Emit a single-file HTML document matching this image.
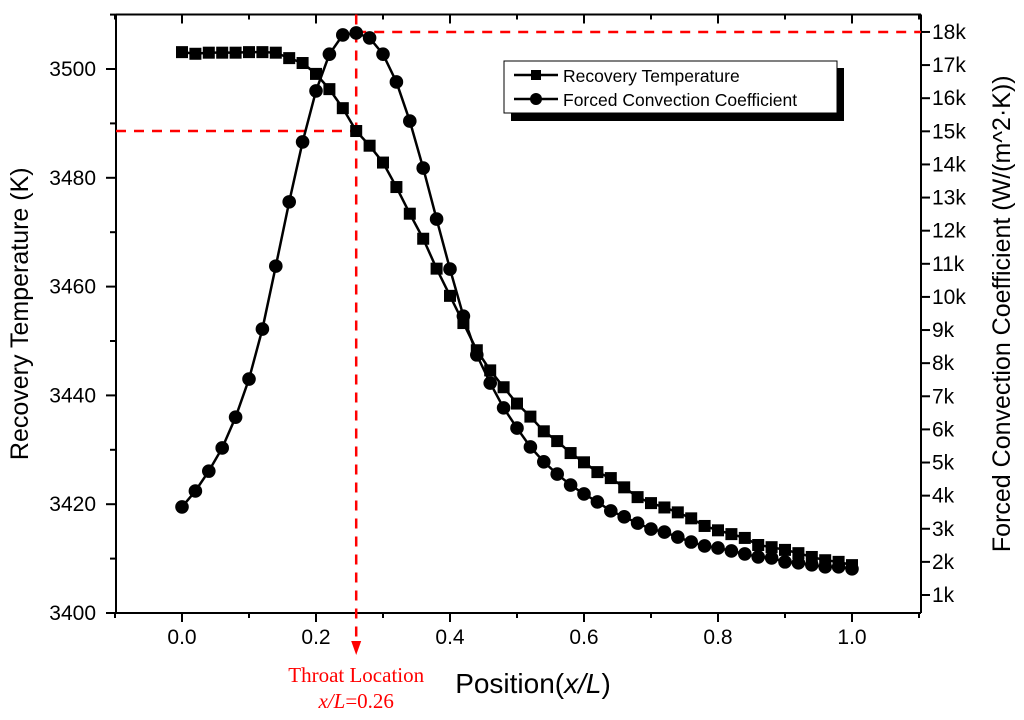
<!DOCTYPE html>
<html><head><meta charset="utf-8"><style>
body{margin:0;background:#fff;}
svg{display:block;font-family:"Liberation Sans",Arial,sans-serif;}
</style></head><body>
<svg id="chart" width="1024" height="720" viewBox="0 0 1024 720">
<g id="plot"></g>
</svg>
<script>
const xs = [0,0.02,0.04,0.06,0.08,0.10,0.12,0.14,0.16,0.18,0.20,0.22,0.24,0.26,0.28,0.30,0.32,0.34,0.36,0.38,0.40,0.42,0.44,0.46,0.48,0.50,0.52,0.54,0.56,0.58,0.60,0.62,0.64,0.66,0.68,0.70,0.72,0.74,0.76,0.78,0.80,0.82,0.84,0.86,0.88,0.90,0.92,0.94,0.96,0.98,1.0];
const tempK = [3503.1,3502.8,3503,3503,3503,3503.1,3503.1,3503,3502,3501.1,3499.1,3496.3,3492.8,3488.6,3485.9,3482.8,3478.3,3473.4,3468.8,3463.3,3458.3,3453.3,3448.3,3444.6,3441.5,3438.5,3436.1,3433.4,3431.6,3429.4,3427.7,3425.9,3424.8,3423.1,3421.3,3420.2,3419.4,3418.5,3417.4,3416,3415.2,3414.5,3413.8,3412.5,3412.1,3411.6,3411,3410.3,3409.7,3409.4,3408.8];
const hConvK = [3.66,4.14,4.74,5.44,6.37,7.52,9.03,10.93,12.87,14.68,16.22,17.33,17.91,17.97,17.82,17.33,16.49,15.31,13.89,12.35,10.84,9.42,8.25,7.40,6.65,6.04,5.47,5.02,4.65,4.32,4.05,3.81,3.54,3.36,3.17,2.99,2.90,2.75,2.60,2.48,2.42,2.33,2.24,2.15,2.12,2.00,1.97,1.91,1.85,1.85,1.79];
const xTicks = [0.0,0.2,0.4,0.6,0.8,1.0];
const xTickLabels = ["0.0","0.2","0.4","0.6","0.8","1.0"];
const leftTicks = [3400,3420,3440,3460,3480,3500];
const rightTicks = [1,2,3,4,5,6,7,8,9,10,11,12,13,14,15,16,17,18];
const throatX = 0.26;

const L=116,R=921,T=14.5,B=613;
const X = v => 182 + v*670;
const YL = v => 613 - (v-3400)*5.44;
const YR = v => 595 - (v-1)*33.12;

const NS="http://www.w3.org/2000/svg";
const g=document.getElementById('plot');
function el(tag,attrs,parent){const e=document.createElementNS(NS,tag);for(const k in attrs)e.setAttribute(k,attrs[k]);(parent||g).appendChild(e);return e;}

let a=el('path',{d:`M${L},${B}H${R}M${L},${T}H${R}M${L},${T}V${B}M${R},${T}V${B}`,stroke:'#000','stroke-width':2,fill:'none'});



for(let v=-0.1;v<=1.101;v+=0.1){
  const major=Math.abs(Math.round(v*10)%2)===0;
  const x=X(v);
  el('line',{x1:x,x2:x,y1:B,y2:B+(major?9:5),stroke:'#000','stroke-width':2});
  el('line',{x1:x,x2:x,y1:T,y2:T+(major?9:5),stroke:'#000','stroke-width':2});
}
xTicks.forEach((v,i)=>{
  const t=el('text',{x:X(v),y:644,'font-size':21,'text-anchor':'middle',fill:'#000'});
  t.textContent=xTickLabels[i];
  
  
});
for(let v=3400;v<=3510;v+=10){
  const major=v%20===0;
  el('line',{x1:L-(major?10:6),x2:L,y1:YL(v),y2:YL(v),stroke:'#000','stroke-width':2});
}
leftTicks.forEach(v=>{
  const t=el('text',{x:96,y:YL(v)+7,'font-size':21,'text-anchor':'end',fill:'#000'});
  t.textContent=v;
  
  
});
rightTicks.forEach(v=>{
  el('line',{x1:R,x2:R+9,y1:YR(v),y2:YR(v),stroke:'#000','stroke-width':2});
  const t=el('text',{x:932,y:YR(v)+7,'font-size':21,'text-anchor':'start',fill:'#000'});
  t.textContent=v+'k';
  
  
});

let t1=el('text',{x:0,y:0,'font-size':25,'text-anchor':'middle',transform:`translate(28,${(T+B)/2}) rotate(-90)`});
t1.textContent='Recovery Temperature (K)';


let t2=el('text',{x:0,y:0,'font-size':25,'text-anchor':'middle',transform:`translate(1010,${(T+B)/2}) rotate(-90)`});
t2.textContent='Forced Convection Coefficient (W/(m^2\u00B7K))';


let t3=el('text',{x:533,y:693,'font-size':28,'text-anchor':'middle'});
t3.innerHTML='Position(<tspan font-style="italic">x/L</tspan>)';



const tx=X(throatX);
let d1=el('line',{x1:tx,x2:tx,y1:T,y2:640,stroke:'#f00','stroke-width':2.5,'stroke-dasharray':'10,8'});


let d2=el('line',{x1:L,x2:tx,y1:YL(tempK[13]),y2:YL(tempK[13]),stroke:'#f00','stroke-width':2.5,'stroke-dasharray':'10,8'});


let d3=el('line',{x1:tx,x2:R,y1:YR(18),y2:YR(18),stroke:'#f00','stroke-width':2.5,'stroke-dasharray':'10,8'});


let ar=el('path',{d:`M${tx-5},641L${tx+5},641L${tx},655Z`,fill:'#f00'});


let tl=el('text',{x:tx,y:682,'font-size':21,'text-anchor':'middle',fill:'#f00','font-family':'Liberation Serif, serif'});
tl.textContent='Throat Location';


let tl2=el('text',{x:tx,y:708,'font-size':21,'text-anchor':'middle',fill:'#f00','font-family':'Liberation Serif, serif'});
tl2.innerHTML='<tspan font-style="italic">x/L</tspan>=0.26';



let p1=el('polyline',{points:xs.map((v,i)=>X(v)+','+YL(tempK[i])).join(' '),fill:'none',stroke:'#000','stroke-width':2.5});


let p2=el('polyline',{points:xs.map((v,i)=>X(v)+','+YR(hConvK[i])).join(' '),fill:'none',stroke:'#000','stroke-width':2.5});


xs.forEach((v,i)=>{
  const r=el('rect',{x:X(v)-6,y:YL(tempK[i])-6,width:12,height:12,fill:'#000'});
  
  
  const c=el('circle',{cx:X(v),cy:YR(hConvK[i]),r:6.8,fill:'#000'});
  
  
});

const lg=el('g',{});


el('rect',{x:511,y:68,width:333,height:53,fill:'#000'},lg);
el('rect',{x:504,y:61,width:333,height:52,fill:'#fff',stroke:'#000','stroke-width':1},lg);
el('line',{x1:514,x2:558,y1:75,y2:75,stroke:'#000','stroke-width':2.5},lg);
el('rect',{x:531,y:70,width:10,height:10,fill:'#000'},lg);
el('line',{x1:514,x2:558,y1:99,y2:99,stroke:'#000','stroke-width':2.5},lg);
el('circle',{cx:536,cy:99,r:6,fill:'#000'},lg);
let l1=el('text',{x:563,y:82,'font-size':17.5},lg);
l1.textContent='Recovery Temperature';


let l2=el('text',{x:563,y:106,'font-size':17.5},lg);
l2.textContent='Forced Convection Coefficient';


</script>
</body></html>
